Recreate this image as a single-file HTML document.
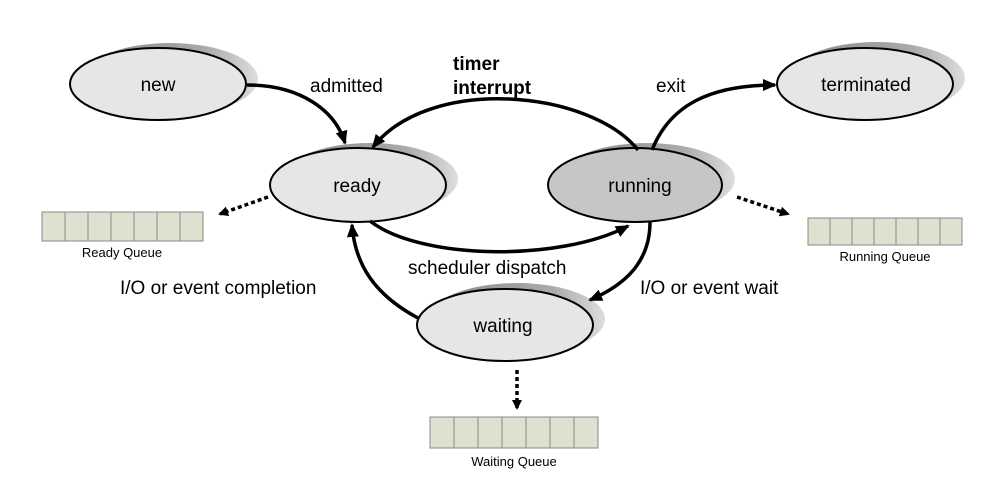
<!DOCTYPE html>
<html><head><style>body{margin:0;background:#fff}svg{display:block}text{font-family:"Liberation Sans",Arial,sans-serif}</style></head>
<body>
<svg width="999" height="504" viewBox="0 0 999 504" xmlns="http://www.w3.org/2000/svg">
<defs>
<linearGradient id="sh" x1="0" y1="0" x2="1" y2="0">
<stop offset="0" stop-color="#888"/><stop offset="0.7" stop-color="#aaa"/><stop offset="1" stop-color="#ddd"/>
</linearGradient>
<marker id="ah" markerWidth="10" markerHeight="10" refX="8" refY="5" orient="auto" markerUnits="userSpaceOnUse">
<path d="M0,0 L10,5 L0,10 z" fill="#000"/></marker>
<marker id="ah2" markerWidth="14" markerHeight="14" refX="12" refY="7" orient="auto" markerUnits="userSpaceOnUse">
<path d="M0,1 L14,7 L0,13 z" fill="#000"/></marker>
</defs>
<g stroke="none" fill="url(#sh)">
<ellipse cx="170" cy="79" rx="88" ry="36"/>
<ellipse cx="370" cy="179" rx="88" ry="36"/>
<ellipse cx="647" cy="179" rx="88" ry="36"/>
<ellipse cx="517" cy="319" rx="88" ry="36"/>
<ellipse cx="877" cy="78" rx="88" ry="36"/>
</g>
<g stroke="#000" stroke-width="2">
<ellipse cx="158" cy="84" rx="88" ry="36" fill="#e6e6e6"/>
<ellipse cx="358" cy="185" rx="88" ry="37" fill="#e6e6e6"/>
<ellipse cx="635" cy="185" rx="87" ry="37" fill="#c6c6c6"/>
<ellipse cx="505" cy="325" rx="88" ry="36" fill="#e6e6e6"/>
<ellipse cx="865" cy="84" rx="88" ry="36" fill="#e6e6e6"/>
</g>
<g font-size="19" text-anchor="middle" fill="#000">
<text x="158" y="91">new</text>
<text x="357" y="192">ready</text>
<text x="640" y="192">running</text>
<text x="503" y="332">waiting</text>
<text x="866" y="91">terminated</text>
</g>
<g fill="none" stroke="#000" stroke-width="3.5">
<path d="M247 85 C300 85 335 110 345 143" marker-end="url(#ah2)"/>
<path d="M638 150 C590 90 430 75 373 147" marker-end="url(#ah2)"/>
<path d="M652 150 C670 105 710 85 775 85" marker-end="url(#ah2)"/>
<path d="M370 221 C420 260 560 262 628 226" marker-end="url(#ah2)"/>
<path d="M650 222 C650 262 625 285 590 300" marker-end="url(#ah2)"/>
<path d="M418 318 C375 295 355 265 352 225" marker-end="url(#ah2)"/>
</g>
<g fill="none" stroke="#000" stroke-width="3.5" stroke-dasharray="4,3">
<path d="M268 197 L220 214" marker-end="url(#ah)"/>
<path d="M737 197 L788 214" marker-end="url(#ah)"/>
<path d="M517 370 L517 408" marker-end="url(#ah)"/>
</g>
<g font-size="19" fill="#000">
<text x="310" y="92">admitted</text>
<text x="453" y="70" font-weight="bold">timer</text>
<text x="453" y="94" font-weight="bold">interrupt</text>
<text x="656" y="92">exit</text>
<text x="408" y="274">scheduler dispatch</text>
<text x="120" y="294">I/O or event completion</text>
<text x="640" y="294">I/O or event wait</text>
</g>
<g fill="#dfe0cf" stroke="#888" stroke-width="1">
<rect x="42" y="212" width="161" height="29"/>
<rect x="808" y="218" width="154" height="27"/>
<rect x="430" y="417" width="168" height="31"/>
</g>
<g stroke="#888" stroke-width="1">
<path d="M65 212v29M88 212v29M111 212v29M134 212v29M157 212v29M180 212v29"/>
<path d="M830 218v27M852 218v27M874 218v27M896 218v27M918 218v27M940 218v27"/>
<path d="M454 417v31M478 417v31M502 417v31M526 417v31M550 417v31M574 417v31"/>
</g>
<g font-size="13" text-anchor="middle" fill="#000">
<text x="122" y="257">Ready Queue</text>
<text x="885" y="261">Running Queue</text>
<text x="514" y="466">Waiting Queue</text>
</g>
</svg>
</body></html>
